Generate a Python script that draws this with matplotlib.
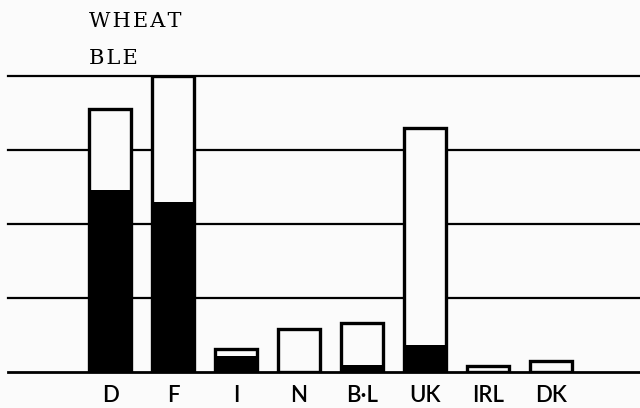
import matplotlib.pyplot as plt

countries = ['D', 'F', 'I', 'N', 'B·L', 'UK', 'IRL', 'DK']
total = [17.8, 20.0, 1.55, 2.9, 3.3, 16.5, 0.4, 0.75]
black_part = [12.3, 11.5, 1.1, 0.0, 0.45, 1.8, 0.0, 0.0]
grid_levels = [5, 10, 15, 20]

W, H = 640, 408
fig = plt.figure(figsize=(W / 100, H / 100), dpi=100, facecolor='#fbfbfb')
ax = fig.add_axes([8 / W, 1 - 372 / H, 1 - 8 / W, (372 - 76) / H])
ax.set_facecolor('none')

x = range(len(countries))
width = 0.67
white_part = [t - b for t, b in zip(total, black_part)]
ax.bar(x, black_part, width=width, color='black', edgecolor='black', linewidth=0, zorder=2)
ax.bar(x, white_part, bottom=black_part, width=width, color='#fbfbfb', edgecolor='none', zorder=2)
# outline around each whole bar
ax.bar(x, total, width=width, color='none', edgecolor='black', linewidth=2.4, zorder=3)

for g in grid_levels:
    ax.axhline(g, color='black', linewidth=1.6, zorder=1, clip_on=False)
ax.axhline(0, color='black', linewidth=2.0, zorder=4, clip_on=False)

ax.set_xlim(-1.62, 8.41)
ax.set_ylim(0, 20)
ax.set_xticks(list(x))
ax.set_xticklabels(countries, fontsize=16, family='Lato', fontweight='semibold')
ax.tick_params(axis='x', length=0, pad=9)
ax.set_yticks([])
for s in ax.spines.values():
    s.set_visible(False)

hair = '\u200a'
fig.text(89 / W, 1 - 27 / H, hair.join('WHEAT'), fontsize=15, family=['DejaVu Serif'])
fig.text(89 / W, 1 - 64 / H, hair.join('BLE'), fontsize=15, family=['DejaVu Serif'])

plt.savefig('out.png', dpi=100, facecolor=fig.get_facecolor())
plt.close()
